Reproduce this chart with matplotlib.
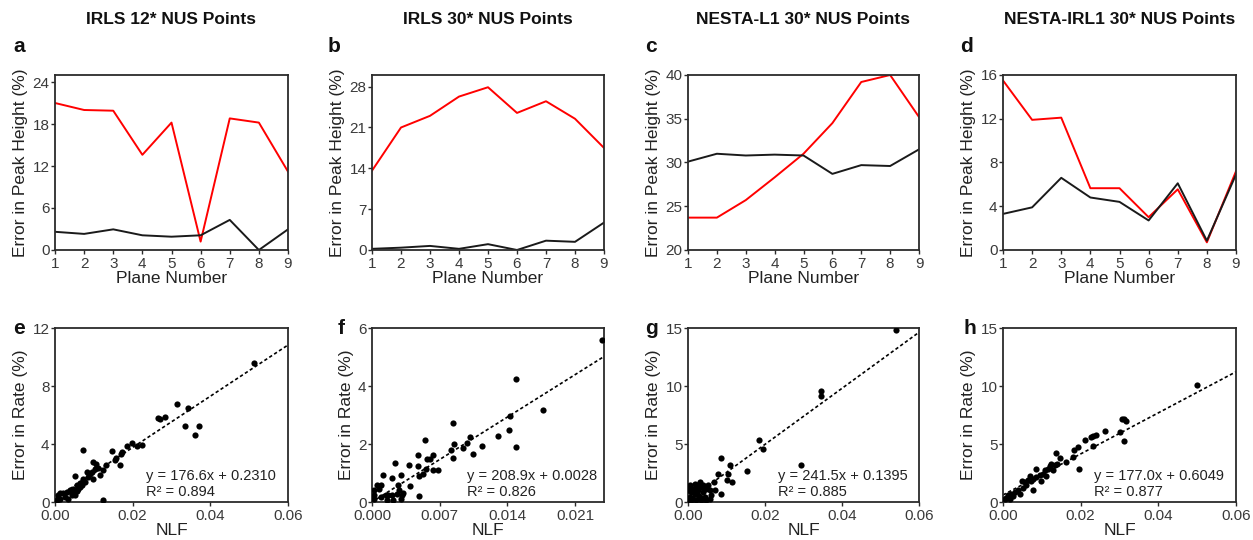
import matplotlib
matplotlib.use("Agg")
import matplotlib.pyplot as plt
import numpy as np

plt.rcParams['font.family'] = ['Liberation Sans', 'DejaVu Sans']

# --- top row: error in peak height per plane ---
planes = [1, 2, 3, 4, 5, 6, 7, 8, 9]
titles = ['IRLS 12* NUS Points', 'IRLS 30* NUS Points',
          'NESTA-L1 30* NUS Points', 'NESTA-IRL1 30* NUS Points']
red_a = [21.0, 20.0, 19.9, 13.6, 18.2, 1.2, 18.8, 18.2, 11.2]
blk_a = [2.6, 2.3, 2.95, 2.1, 1.9, 2.1, 4.3, 0.0, 2.95]
red_b = [13.6, 21.0, 23.0, 26.3, 27.9, 23.5, 25.5, 22.5, 17.5]
blk_b = [0.2, 0.4, 0.7, 0.2, 1.0, 0.0, 1.6, 1.4, 4.7]
red_c = [23.7, 23.7, 25.7, 28.3, 31.0, 34.5, 39.2, 40.0, 35.2]
blk_c = [30.1, 31.0, 30.8, 30.9, 30.8, 28.7, 29.7, 29.6, 31.5]
red_d = [15.5, 11.9, 12.1, 5.65, 5.65, 3.0, 5.55, 0.7, 7.2]
blk_d = [3.3, 3.9, 6.6, 4.8, 4.4, 2.7, 6.1, 0.85, 6.9]

# --- bottom row: error in rate vs NLF ---
nlf_e = [0.0512, 0.0313, 0.0342, 0.0264, 0.0270, 0.0284, 0.0336, 0.0370, 0.0361,
         0.0223, 0.0210, 0.0198, 0.0186, 0.0172, 0.0169, 0.0157, 0.0148, 0.0167,
         0.0155, 0.0131, 0.0124, 0.0116, 0.0073, 0.0099, 0.0106, 0.0112, 0.0094,
         0.0097, 0.0082, 0.0052, 0.0071, 0.0064, 0.0056, 0.0039, 0.0047, 0.0030,
         0.0021, 0.0013, 0.0009, 0.0026, 0.0043, 0.0052, 0.0060, 0.0069, 0.0077,
         0.0086, 0.0090, 0.0103, 0.0124, 0.0004, 0.0013, 0.0034, 0.0073, 0.0064,
         0.0043, 0.0056]
err_e = [9.59, 6.76, 6.48, 5.77, 5.72, 5.86, 5.22, 5.26, 4.62,
         3.91, 3.84, 4.05, 3.86, 3.45, 3.29, 3.03, 3.54, 2.57,
         2.87, 2.57, 2.23, 1.89, 3.56, 2.76, 2.60, 2.37, 2.09,
         1.61, 2.09, 1.77, 1.61, 1.31, 1.15, 0.85, 0.92, 0.69,
         0.64, 0.64, 0.46, 0.34, 0.46, 0.46, 0.92, 1.15, 1.38,
         1.72, 1.95, 2.30, 0.11, 0.11, 0.23, 0.23, 1.43, 1.03,
         0.64, 0.76]

nlf_f = [0.0238, 0.0149, 0.0177, 0.0143, 0.0142, 0.0149, 0.0130, 0.0114, 0.0104,
         0.0101, 0.0098, 0.0094, 0.0084, 0.0085, 0.0082, 0.0084, 0.0055, 0.0048,
         0.0063, 0.0060, 0.0057, 0.0068, 0.0063, 0.0056, 0.0053, 0.0048, 0.0049,
         0.0038, 0.0039, 0.0030, 0.0024, 0.0021, 0.0027, 0.0011, 0.0009, 0.0005,
         0.0007, 0.0002, 0.0002, 0.0002, 0.0014, 0.0017, 0.0021, 0.0026, 0.0031,
         0.0030, 0.0022, 0.0016, 0.0049, 0.0009, 0.0032, 0.0028]
err_f = [5.60, 4.25, 3.18, 2.97, 2.47, 1.89, 2.28, 1.94, 1.67,
         2.24, 2.03, 1.87, 2.74, 2.00, 1.78, 1.52, 2.14, 1.61,
         1.62, 1.49, 1.49, 1.11, 1.09, 1.15, 0.95, 1.24, 0.89,
         1.26, 0.54, 0.93, 1.34, 0.84, 0.57, 0.92, 0.60, 0.57,
         0.44, 0.43, 0.23, 0.11, 0.23, 0.25, 0.23, 0.29, 0.23,
         0.11, 0.06, 0.06, 0.20, 0.17, 0.31, 0.43]

nlf_g = [0.0541, 0.0345, 0.0345, 0.0185, 0.0194, 0.0294, 0.0152, 0.0087, 0.0108,
         0.0078, 0.0104, 0.0100, 0.0114, 0.0067, 0.0069, 0.0087, 0.0061, 0.0056,
         0.0004, 0.0009, 0.0013, 0.0022, 0.0030, 0.0035, 0.0026, 0.0039, 0.0043,
         0.0048, 0.0017, 0.0004, 0.0003, 0.0009, 0.0022, 0.0035, 0.0013, 0.0026,
         0.0039, 0.0052, 0.0048, 0.0017, 0.0030, 0.0000, 0.0006, 0.0041, 0.0056,
         0.0026]
err_g = [14.8, 9.54, 9.14, 5.34, 4.60, 3.16, 2.64, 3.79, 3.16,
         2.39, 2.44, 1.93, 1.72, 1.72, 1.06, 0.72, 0.57, 0.29,
         1.44, 0.86, 0.29, 1.15, 1.72, 1.29, 0.57, 0.86, 0.43,
         1.15, 1.58, 0.43, 0.14, 0.14, 0.14, 0.14, 1.15, 1.00,
         1.44, 1.44, 0.14, 0.72, 0.43, 1.00, 1.29, 0.29, 1.00,
         1.44]

nlf_h = [0.0500, 0.0306, 0.0311, 0.0317, 0.0300, 0.0311, 0.0262, 0.0239, 0.0232,
         0.0226, 0.0233, 0.0210, 0.0193, 0.0183, 0.0180, 0.0196, 0.0146, 0.0137,
         0.0140, 0.0133, 0.0124, 0.0120, 0.0116, 0.0107, 0.0103, 0.0094, 0.0086,
         0.0086, 0.0077, 0.0069, 0.0073, 0.0064, 0.0056, 0.0049, 0.0077, 0.0060,
         0.0052, 0.0039, 0.0030, 0.0021, 0.0013, 0.0009, 0.0004, 0.0017, 0.0026,
         0.0043, 0.0099, 0.0112, 0.0129, 0.0163]
err_h = [10.06, 7.18, 7.13, 6.95, 6.03, 5.26, 6.09, 5.75, 5.69,
         5.60, 4.83, 5.32, 4.71, 4.45, 3.88, 2.87, 3.79, 4.22,
         3.30, 3.16, 3.30, 3.10, 2.87, 2.73, 2.44, 2.30, 2.87,
         2.16, 2.01, 2.24, 1.78, 1.87, 1.72, 1.78, 1.00, 1.44,
         1.24, 1.00, 0.86, 0.72, 0.57, 0.37, 0.23, 0.29, 0.52,
         0.72, 1.78, 2.24, 2.73, 3.45]

fit_slope = [176.6, 208.9, 241.5, 177.0]
fit_icpt = [0.2310, 0.0028, 0.1395, 0.6049]
fit_eq = ['y = 176.6x + 0.2310', 'y = 208.9x + 0.0028',
          'y = 241.5x + 0.1395', 'y = 177.0x + 0.6049']
fit_r2 = ['R\u00b2 = 0.894', 'R\u00b2 = 0.826', 'R\u00b2 = 0.885', 'R\u00b2 = 0.877']

top_red = [red_a, red_b, red_c, red_d]
top_blk = [blk_a, blk_b, blk_c, blk_d]
top_ylim = [(0, 25), (0, 30), (20, 40), (0, 16)]
top_yticks = [[0, 6, 12, 18, 24], [0, 7, 14, 21, 28], [20, 25, 30, 35, 40], [0, 4, 8, 12, 16]]

sc_x = [nlf_e, nlf_f, nlf_g, nlf_h]
sc_y = [err_e, err_f, err_g, err_h]
sc_xlim = [(0, 0.06), (0, 0.024), (0, 0.06), (0, 0.06)]
sc_xticks = [[0, 0.02, 0.04, 0.06], [0, 0.007, 0.014, 0.021],
             [0, 0.02, 0.04, 0.06], [0, 0.02, 0.04, 0.06]]
sc_xfmt = ['%.2f', '%.3f', '%.2f', '%.2f']
sc_ylim = [(0, 12), (0, 6), (0, 15), (0, 15)]
sc_yticks = [[0, 4, 8, 12], [0, 2, 4, 6], [0, 5, 10, 15], [0, 5, 10, 15]]

W, H = 1253, 540
fig = plt.figure(figsize=(W / 100, H / 100), dpi=100)

lefts = [55, 372, 688, 1003]
widths = [233, 232, 231, 233]
top_letters = ['a', 'b', 'c', 'd']
bot_letters = ['e', 'f', 'g', 'h']
top_letter_x = [13, 328, 645, 960]
bot_letter_x = [13, 338, 645, 963]

spine_c = '#2b2b2b'
tick_c = '#3a3a3a'


def style(ax):
    for s in ax.spines.values():
        s.set_color(spine_c)
        s.set_linewidth(1.3)
    ax.tick_params(direction='out', length=3, width=1, color=spine_c,
                   labelsize=11, labelcolor=tick_c, pad=1)
    ax.tick_params(axis='x', pad=2)


for i in range(4):
    # top row
    ax = fig.add_axes([lefts[i] / W, (H - 250) / H, widths[i] / W, 175 / H])
    ax.plot(planes, top_red[i], color='#ff0000', lw=1.4)
    ax.plot(planes, top_blk[i], color='#1a1a1a', lw=1.4)
    ax.set_xlim(1, 9)
    ax.set_ylim(*top_ylim[i])
    ax.set_xticks(planes)
    ax.set_yticks(top_yticks[i])
    style(ax)
    ax.set_xlabel('Plane Number', fontsize=12.5, color='#222222', labelpad=0)
    ax.set_ylabel('Error in Peak Height (%)', fontsize=12.5, color='#222222', labelpad=3)
    fig.text((lefts[i] + widths[i] / 2) / W, 1 - 20 / H, titles[i], fontsize=12.5,
             fontweight='bold', ha='center', va='center', color='#111111')
    fig.text(top_letter_x[i] / W, 1 - 47 / H, top_letters[i], fontsize=15,
             fontweight='bold', ha='left', va='center', color='#111111')

    # bottom row
    ax2 = fig.add_axes([lefts[i] / W, (H - 502) / H, widths[i] / W, 174 / H])
    ax2.scatter(sc_x[i], sc_y[i], s=20, color='black', zorder=3, linewidths=0)
    xs = np.array(sc_xlim[i])
    ax2.plot(xs, fit_slope[i] * xs + fit_icpt[i], color='black', lw=1.2,
             linestyle=(0, (2, 1.5)), zorder=2)
    ax2.set_xlim(*sc_xlim[i])
    ax2.set_ylim(*sc_ylim[i])
    ax2.set_xticks(sc_xticks[i])
    ax2.set_xticklabels([sc_xfmt[i] % v for v in sc_xticks[i]])
    ax2.set_yticks(sc_yticks[i])
    style(ax2)
    ax2.set_xlabel('NLF', fontsize=12.5, color='#222222', labelpad=0)
    ax2.set_ylabel('Error in Rate (%)', fontsize=12.5, color='#222222', labelpad=3)
    tx = 0.41 if i == 1 else 0.39
    ax2.text(tx, 0.15, fit_eq[i], transform=ax2.transAxes, fontsize=10.5,
             va='center', ha='left', color='#222222')
    ax2.text(tx, 0.055, fit_r2[i], transform=ax2.transAxes, fontsize=10.5,
             va='center', ha='left', color='#222222')
    fig.text(bot_letter_x[i] / W, 1 - 329 / H, bot_letters[i], fontsize=15,
             fontweight='bold', ha='left', va='center', color='#111111')

fig.savefig('out.png', dpi=100)
